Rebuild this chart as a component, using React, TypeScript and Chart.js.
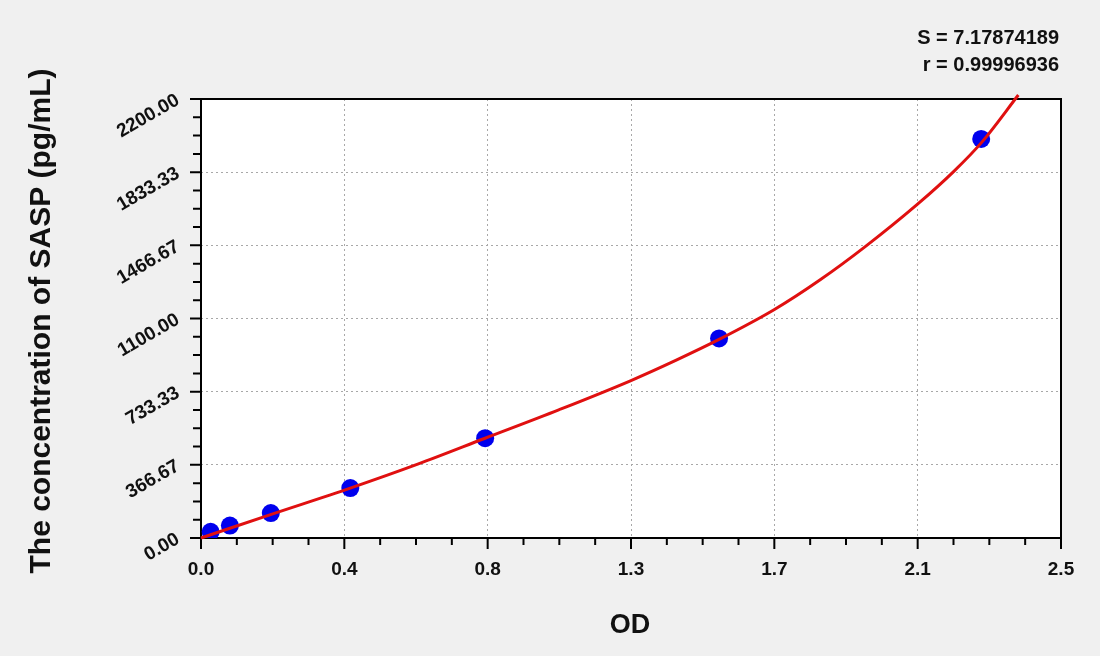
import React, { useEffect, useRef } from 'react';
import { Chart, registerables } from 'chart.js';

Chart.register(...registerables);

// Standard points (OD, concentration pg/mL)
const odValues = [0.028, 0.084, 0.203, 0.434, 0.826, 1.506, 2.268];
const concValues = [31.25, 62.5, 125, 250, 500, 1000, 2000];

// Fitted curve
const curveOD = [0, 0.2, 0.434, 0.63, 0.826, 1.04, 1.25, 1.38, 1.506, 1.667, 1.8, 1.93, 2.083, 2.187, 2.27, 2.376];
const curveConc = [0, 116, 250, 370, 500, 642, 789, 890, 995, 1145, 1294, 1459, 1673, 1835, 1984, 2220];

const xTickValues = [0, 0.416667, 0.833333, 1.25, 1.666667, 2.083333, 2.5];
const xTickLabels = ['0.0', '0.4', '0.8', '1.3', '1.7', '2.1', '2.5'];
const yTickValues = [0, 366.6667, 733.3333, 1100, 1466.6667, 1833.3333, 2200];
const yTickLabels = ['0.00', '366.67', '733.33', '1100.00', '1466.67', '1833.33', '2200.00'];

const statLines = ['S = 7.17874189', 'r = 0.99996936'];
const xTitle = 'OD';
const yTitle = 'The concentration of SASP (pg/mL)';
const MINOR_DIVS = 4;

const FONT = "'Liberation Sans', Arial, sans-serif";

const framePlugin = {
  id: 'framePlugin',
  beforeDraw(chart: any) {
    const { ctx, chartArea: a } = chart;
    ctx.save();
    ctx.fillStyle = '#f0f0f0';
    ctx.fillRect(0, 0, chart.width, chart.height);
    ctx.fillStyle = '#ffffff';
    ctx.fillRect(a.left, a.top, a.right - a.left, a.bottom - a.top);
    ctx.restore();
  },
  beforeDatasetsDraw(chart: any) {
    const { ctx, chartArea: a, scales } = chart;
    const xs = scales.x;
    const ys = scales.y;
    ctx.save();
    ctx.strokeStyle = '#000';
    ctx.lineWidth = 2;
    ctx.strokeRect(a.left, a.top, a.right - a.left, a.bottom - a.top);
    ctx.beginPath();
    for (let i = 0; i < xTickValues.length; i++) {
      const px = xs.getPixelForValue(xTickValues[i]);
      ctx.moveTo(px, a.bottom);
      ctx.lineTo(px, a.bottom + 11);
      if (i < xTickValues.length - 1) {
        for (let k = 1; k < MINOR_DIVS; k++) {
          const v = xTickValues[i] + (k * (xTickValues[i + 1] - xTickValues[i])) / MINOR_DIVS;
          const mp = xs.getPixelForValue(v);
          ctx.moveTo(mp, a.bottom);
          ctx.lineTo(mp, a.bottom + 7);
        }
      }
    }
    for (let i = 0; i < yTickValues.length; i++) {
      const py = ys.getPixelForValue(yTickValues[i]);
      ctx.moveTo(a.left, py);
      ctx.lineTo(a.left - 11, py);
      if (i < yTickValues.length - 1) {
        for (let k = 1; k < MINOR_DIVS; k++) {
          const v = yTickValues[i] + (k * (yTickValues[i + 1] - yTickValues[i])) / MINOR_DIVS;
          const mp = ys.getPixelForValue(v);
          ctx.moveTo(a.left, mp);
          ctx.lineTo(a.left - 8, mp);
        }
      }
    }
    ctx.stroke();
    ctx.restore();
  },
  afterDraw(chart: any) {
    const { ctx } = chart;
    ctx.save();
    ctx.fillStyle = '#111';
    // statistics
    ctx.font = `bold 20px ${FONT}`;
    ctx.textAlign = 'right';
    ctx.textBaseline = 'alphabetic';
    ctx.fillText(statLines[0], 1059, 44);
    ctx.fillText(statLines[1], 1059, 71);
    // x title
    ctx.font = `bold 27px ${FONT}`;
    ctx.textAlign = 'center';
    ctx.fillText(xTitle, 630, 633);
    // y title
    ctx.font = `bold 30px ${FONT}`;
    ctx.translate(50, 321);
    ctx.rotate(-Math.PI / 2);
    ctx.fillText(yTitle, 0, 0);
    ctx.restore();
  },
};

export default function App() {
  const ref = useRef<HTMLCanvasElement | null>(null);

  useEffect(() => {
    if (!ref.current) return;
    const chart = new Chart(ref.current, {
      type: 'scatter',
      data: {
        datasets: [
          {
            type: 'line',
            label: 'fit',
            data: curveOD.map((x, i) => ({ x, y: curveConc[i] })),
            borderColor: '#e01010',
            borderWidth: 3,
            pointRadius: 0,
            fill: false,
            cubicInterpolationMode: 'monotone',
            clip: false,
            order: 1,
          } as any,
          {
            type: 'scatter',
            label: 'standards',
            data: odValues.map((x, i) => ({ x, y: concValues[i] })),
            backgroundColor: '#0000ee',
            borderWidth: 0,
            pointRadius: 9,
            order: 2,
          } as any,
        ],
      },
      options: {
        animation: false,
        responsive: false,
        devicePixelRatio: 1,
        layout: { padding: { top: 99, right: 39, left: 0, bottom: 0 } },
        plugins: {
          legend: { display: false },
          tooltip: { enabled: false },
        },
        scales: {
          x: {
            type: 'linear',
            min: 0,
            max: 2.5,
            afterBuildTicks: (s: any) => {
              s.ticks = xTickValues.map((v) => ({ value: v }));
            },
            afterFit: (s: any) => {
              s.height = 118;
            },
            ticks: {
              callback: (_v: any, i: number) => xTickLabels[i],
              color: '#111',
              font: { family: FONT, size: 19, weight: 'bold' },
              padding: 20,
              maxRotation: 0,
              minRotation: 0,
            },
            grid: {
              drawTicks: false,
              color: (c: any) =>
                c.tick && (c.tick.value === 0 || c.tick.value === 2.5) ? 'rgba(0,0,0,0)' : '#a8a8a8',
              lineWidth: 1,
            },
            border: { display: false, dash: [2, 3] },
          },
          y: {
            type: 'linear',
            min: 0,
            max: 2200,
            afterBuildTicks: (s: any) => {
              s.ticks = yTickValues.map((v) => ({ value: v }));
            },
            afterFit: (s: any) => {
              s.width = 201;
            },
            ticks: {
              callback: (_v: any, i: number) => yTickLabels[i],
              color: '#111',
              font: { family: FONT, size: 19, weight: 'bold' },
              padding: 23,
              minRotation: 30,
              maxRotation: 30,
            },
            grid: {
              drawTicks: false,
              color: (c: any) =>
                c.tick && (c.tick.value === 0 || c.tick.value === 2200) ? 'rgba(0,0,0,0)' : '#a8a8a8',
              lineWidth: 1,
            },
            border: { display: false, dash: [2, 3] },
          },
        },
      },
      plugins: [framePlugin],
    } as any);
    return () => chart.destroy();
  }, []);

  return (
    <div style={{ position: 'fixed', left: 0, top: 0, width: 1100, height: 656, background: '#f0f0f0' }}>
      <canvas ref={ref} width={1100} height={656} style={{ display: 'block' }} />
    </div>
  );
}
